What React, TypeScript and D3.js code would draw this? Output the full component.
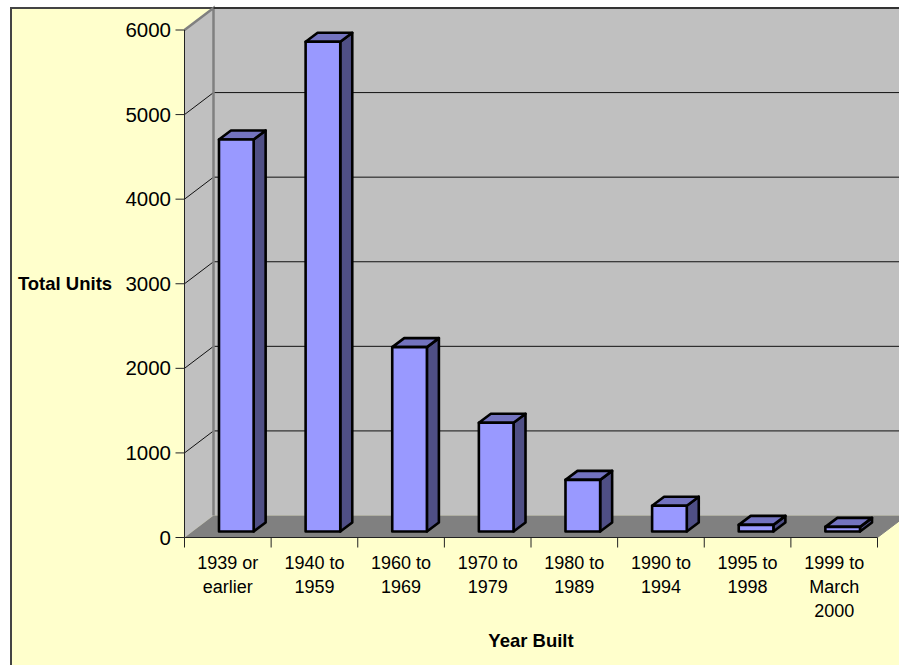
import React from "react";
import * as d3 from "d3";

const categories = [
  ["1939 or", "earlier"],
  ["1940 to", "1959"],
  ["1960 to", "1969"],
  ["1970 to", "1979"],
  ["1980 to", "1989"],
  ["1990 to", "1994"],
  ["1995 to", "1998"],
  ["1999 to", "March", "2000"],
];
const totalUnits = [4635, 5790, 2180, 1285, 610, 305, 78, 55];
const yTicks = [0, 1000, 2000, 3000, 4000, 5000, 6000];

const FONT = "'Liberation Sans', Arial, sans-serif";
const BG = "#FFFFCC";

// chart frame, front plane of the 3d box
const left = 184.5;
const right = 877.5;
const top = 30;
const bottom = 537.5;
const depthX = 29;
const depthY = -22;
// bars stand a bit behind the front plane
const barDepthX = 12;
const barDepthY = -9;
const barShiftX = 8.5;
const barShiftY = -6;

const x = d3
  .scaleBand<number>()
  .domain(d3.range(categories.length))
  .range([left, right])
  .paddingInner(0.6)
  .paddingOuter(0.3);
const y = d3.scaleLinear().domain([0, 6000]).range([bottom, top]);
const step = x.step();

const poly = (pts: [number, number][]) => d3.line()(pts) + "Z";

export default function App() {
  return (
    <svg
      width={899}
      height={665}
      style={{ position: "absolute", left: 0, top: 0, fontFamily: FONT }}
    >
      <rect x={0} y={0} width={899} height={665} fill="#fff" />
      <rect x={11} y={8} width={900} height={670} fill={BG} stroke="#444" strokeWidth={2} />

      {/* walls and floor */}
      <path
        d={poly([
          [left + depthX, top + depthY],
          [899, top + depthY],
          [899, bottom + depthY],
          [left + depthX, bottom + depthY],
        ])}
        fill="#C0C0C0"
      />
      <path
        d={poly([
          [left, top],
          [left + depthX, top + depthY],
          [left + depthX, bottom + depthY],
          [left, bottom],
        ])}
        fill="#C0C0C0"
      />
      <path
        d={poly([
          [left, bottom],
          [left + depthX, bottom + depthY],
          [right + depthX, bottom + depthY],
          [right, bottom],
        ])}
        fill="#808080"
      />

      {/* gridlines */}
      {yTicks.slice(1, -1).map((t) => (
        <path
          key={t}
          d={`M${left},${y(t)}L${left + depthX},${y(t) + depthY}L${899},${y(t) + depthY}`}
          fill="none"
          stroke="#111"
          strokeWidth={1}
        />
      ))}
      <path
        d={`M${left},${top}L${left + depthX},${top + depthY}L${left + depthX},${bottom + depthY}`}
        fill="none"
        stroke="#808080"
        strokeWidth={2.5}
      />
      <line x1={left + depthX} x2={899} y1={top + depthY} y2={top + depthY} stroke="#333" strokeWidth={2} />

      {/* axes */}
      <line x1={left} x2={left} y1={top} y2={bottom} stroke="#222" />
      <line x1={left} x2={right} y1={bottom} y2={bottom} stroke="#222" />
      <line x1={right} x2={right + depthX} y1={bottom} y2={bottom + depthY} stroke="#808080" />
      {yTicks.map((t) => (
        <g key={t}>
          <line x1={left - 9} x2={left} y1={y(t)} y2={y(t)} stroke="#222" />
          <text x={left - 13.5} y={y(t) + 7} textAnchor="end" fontSize={20.5} fill="#000">
            {t}
          </text>
        </g>
      ))}
      {d3.range(categories.length + 1).map((i) => (
        <line
          key={i}
          x1={left + i * step}
          x2={left + i * step}
          y1={bottom}
          y2={bottom + 10}
          stroke="#222"
        />
      ))}
      {categories.map((lines, i) => (
        <text key={i} textAnchor="middle" fontSize={18} fill="#000">
          {lines.map((l, j) => (
            <tspan key={j} x={left + (i + 0.5) * step} y={569 + j * 24}>
              {l}
            </tspan>
          ))}
        </text>
      ))}

      {/* bars */}
      {totalUnits.map((v, i) => {
        const x0 = x(i)! + barShiftX;
        const x1 = x0 + x.bandwidth();
        const y0 = y(v) + barShiftY;
        const y1 = y(0) + barShiftY;
        return (
          <g key={i} stroke="#000" strokeWidth={2.6} strokeLinejoin="round">
            <path
              d={poly([
                [x1, y0],
                [x1 + barDepthX, y0 + barDepthY],
                [x1 + barDepthX, y1 + barDepthY],
                [x1, y1],
              ])}
              fill="#4F4F85"
            />
            <path
              d={poly([
                [x0, y0],
                [x0 + barDepthX, y0 + barDepthY],
                [x1 + barDepthX, y0 + barDepthY],
                [x1, y0],
              ])}
              fill="#7373BF"
            />
            <rect x={x0} y={y0} width={x.bandwidth()} height={y1 - y0} fill="#9999FF" />
          </g>
        );
      })}

      <text x={65} y={290} textAnchor="middle" fontSize={18.5} fontWeight="bold" fill="#000">
        Total Units
      </text>
      <text x={531} y={647} textAnchor="middle" fontSize={18.5} fontWeight="bold" fill="#000">
        Year Built
      </text>
    </svg>
  );
}
